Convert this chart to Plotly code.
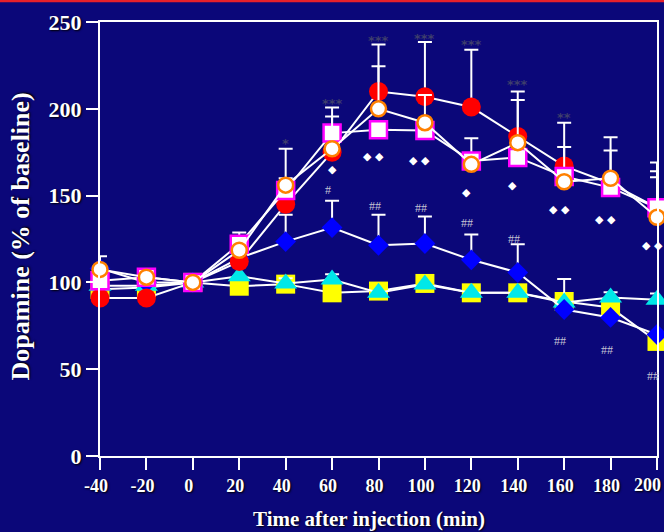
import plotly.graph_objects as go

# ---------------- data ----------------
time_min = [-40, -20, 0, 20, 40, 60, 80, 100, 120, 140, 160, 180, 200]

red_mean = [91, 91, 100, 112, 145, 175, 210, 207, 201, 184, 167, 157, 143]
red_err = [None, None, None, None, None, None, 27, 31.5, 33, 26, 25, None, 21]

pink_mean = [101, 103, 100, 122, 153, 186, 188, 187.5, 170, 172, 161, 154.6, 143]
pink_err = [None, None, None, 6.7, 24, 14.7, None, None, 13, None, 17, 29, 26]

orange_mean = [107.5, 103, 100, 118.5, 156, 177, 200, 192, 168, 180.5, 158, 160, 137.5]
orange_err = [7.5, None, None, None, 4, 18.5, 24.5, 16, None, 24.5, None, 16, 23]

blue_mean = [108, 100, 100, 114, 123.5, 131.6, 121.4, 122.4, 113, 105.7, 84.4, 79.8, 70]
blue_err = [None, None, None, None, 15.5, 15.4, 17.6, 15.6, 14.6, 16.3, None, None, None]

cyan_mean = [98, 98, 100, 103.6, 99.4, 101.7, 94, 98.8, 94, 94, 88.4, 91.3, 90]
cyan_err = [None, None, None, None, 3, 3, None, None, None, None, 13.6, 3, 3.6]

yellow_mean = [96, 97, 100, 97.8, 99, 94, 95, 99.4, 94, 94, 89, 85.5, 66]

x_ticks = [-40, -20, 0, 20, 40, 60, 80, 100, 120, 140, 160, 180, 200]
x_tick_text = ["-40", "-20", "0", "20", "40", "60", "80", "100", "120", "140", "160", "180", "200"]
y_ticks = [0, 50, 100, 150, 200, 250]

stars_x = [40, 60, 80, 100, 120, 140, 160]
stars_text = ["*", "***", "***", "***", "***", "***", "**"]
stars_y = [181.7, 205, 241, 242, 239, 215.7, 197]

hash_x = [60, 80, 100, 120, 140, 160, 180, 200]
hash_text = ["#", "##", "##", "##", "##", "##", "##", "##"]
hash_y = [153, 144, 143, 134, 125, 66, 61, 45.8]

diam_x = [60, 80, 100, 120, 140, 160, 180, 200]
diam_text = ["◆", "◆ ◆", "◆ ◆", "◆", "◆", "◆ ◆", "◆ ◆", "◆ ◆"]
diam_y = [165, 172.5, 170, 152, 156, 142, 136, 121]

# ---------------- style ----------------
BG = "#0b0779"
SERIF = "Liberation Serif, Times New Roman, serif"
SHADOW = "1px 1px 2px #000000"
TICKFONT_X = dict(family=SERIF, size=18, color="white", weight="bold", shadow=SHADOW)

fig = go.Figure()


def add_series(y, err, symbol, size, fill, line_color, line_w):
    eb = None
    if err is not None:
        eb = dict(type="data", symmetric=False, array=err,
                  arrayminus=[0 if e is not None else None for e in err],
                  color="white", thickness=2, width=7, visible=True)
    fig.add_trace(go.Scatter(
        x=time_min, y=y, mode="lines+markers",
        line=dict(color="white", width=2),
        marker=dict(symbol=symbol, size=size, color=fill,
                    line=dict(color=line_color, width=line_w)),
        error_y=eb, showlegend=False, cliponaxis=False,
    ))


add_series(yellow_mean, None, "square", 19, "#ffff00", "#ffff00", 0)
add_series(cyan_mean, cyan_err, "triangle-up", 20, "#00e8e8", "#00e8e8", 0)
add_series(blue_mean, blue_err, "diamond", 16, "#0000ff", "#0000ff", 0)
add_series(red_mean, red_err, "circle", 19, "#ff0000", "#ff0000", 0)
add_series(pink_mean, pink_err, "square", 17, "white", "#ff00ff", 2.5)
add_series(orange_mean, orange_err, "circle", 15, "white", "#ff8000", 2.5)

for x, t, y in zip(stars_x, stars_text, stars_y):
    fig.add_annotation(x=x, y=y, text=t, showarrow=False, xref="x", yref="y",
                       font=dict(family="DejaVu Sans", size=13, color="#3e3e6c", weight="bold"),
                       yshift=-3)
for x, t, y in zip(hash_x, hash_text, hash_y):
    fig.add_annotation(x=x, y=y, text=t, showarrow=False, xref="x", yref="y",
                       font=dict(family=SERIF, size=12, color="#c4c4d4"), xshift=-4)
for x, t, y in zip(diam_x, diam_text, diam_y):
    fig.add_annotation(x=x, y=y, text=t, showarrow=False, xref="x", yref="y",
                       font=dict(family="DejaVu Sans", size=11, color="white"),
                       xshift=-5 if x != 60 else 0)

# last x tick label, kept inside the page at the right edge
shown_tick_text = x_tick_text[:-1] + [""]
fig.add_annotation(x=x_ticks[-1], y=-0.067, xref="x", yref="paper", text=x_tick_text[-1],
                   showarrow=False, xanchor="right", yanchor="middle", xshift=6,
                   font=TICKFONT_X)

# axis titles
fig.add_annotation(x=-0.1436, y=0.506, xref="paper", yref="paper", text="Dopamine (% of baseline)",
                   textangle=-90, showarrow=False, xanchor="center", yanchor="middle",
                   font=dict(family=SERIF, size=26, color="white", weight="bold", shadow=SHADOW))
fig.add_annotation(x=0.483, y=-0.146, xref="paper", yref="paper", text="Time after injection (min)",
                   showarrow=False, xanchor="center", yanchor="middle",
                   font=dict(family=SERIF, size=21, color="white", weight="bold", shadow=SHADOW))

# red rule at top
fig.add_shape(type="line", xref="paper", yref="paper", x0=-0.2, x1=1.05,
              y0=1.049, y1=1.049, line=dict(color="#e8202a", width=3))

fig.update_layout(
    width=664, height=532,
    margin=dict(l=100, r=7, t=22, b=76, autoexpand=False),
    paper_bgcolor=BG, plot_bgcolor=BG,
    xaxis=dict(range=[-40, 200], tickvals=x_ticks, ticktext=shown_tick_text,
               showgrid=False, zeroline=False, showline=True, linecolor="white", linewidth=2,
               mirror=True, ticks="outside", ticklen=12, tickwidth=2, tickcolor="white",
               ticklabeloverflow="allow", automargin=False, ticklabelshift=-4,
               tickfont=TICKFONT_X),
    yaxis=dict(range=[0, 250], tickvals=y_ticks, automargin=False,
               showgrid=False, zeroline=False, showline=True, linecolor="white", linewidth=2,
               mirror=True, ticks="outside", ticklen=12, tickwidth=2, tickcolor="white",
               tickfont=dict(family=SERIF, size=22, color="white", weight="bold", shadow=SHADOW)),
)

fig.write_html("out.html")
